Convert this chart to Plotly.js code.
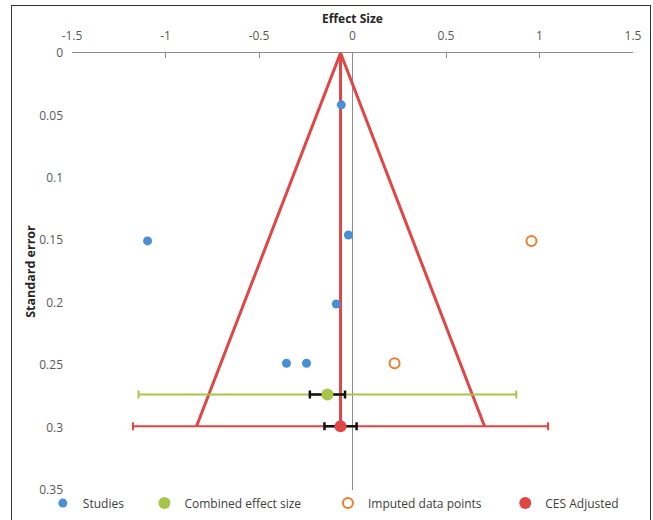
<!DOCTYPE html>
<html>
<head>
<meta charset="utf-8">
<script src="https://cdn.plot.ly/plotly-3.0.1.min.js"></script>
<style>
html,body{margin:0;padding:0;background:#fff;}
#wrap{position:relative;width:653px;height:520px;}
#chart{width:653px;height:520px;}
#frame{position:absolute;left:11px;top:5px;width:640px;height:530px;border:1.5px solid #333;pointer-events:none;box-sizing:border-box;}
</style>
</head>
<body>
<div id="wrap"><div id="chart"></div><div id="frame"></div></div>
<script>
// Data
const studiesX = [-0.06, -1.096, -0.022, -0.087, -0.353, -0.246];
const studiesY = [0.0415, 0.1505, 0.1458, 0.201, 0.2485, 0.2485];
const imputedX = [0.957, 0.225];
const imputedY = [0.1505, 0.2485];
const cesX = [-0.134];
const cesY = [0.2735];
const cesCiWide = [1.01];
const cesCiNarrow = [0.094];
const adjX = [-0.064];
const adjY = [0.299];
const adjCiWide = [1.11];
const adjCiNarrow = [0.086];
const funnelX = [-0.834, -0.064, 0.706];
const funnelY = [0.299, 0, 0.299];
const centerX = [-0.064, -0.064];
const centerY = [0, 0.299];
const xTicks = [-1.5, -1, -0.5, 0, 0.5, 1, 1.5];
const xTickText = ['-1.5', '-1', '-0.5', '0', '0.5', '1', '1.5'];
const yTicks = [0, 0.05, 0.1, 0.15, 0.2, 0.25, 0.3, 0.35];
const yTickText = ['0', '0.05', '0.1', '0.15', '0.2', '0.25', '0.3', '0.35'];
const seriesNames = ['Studies', 'Combined effect size', 'Imputed data points', 'CES Adjusted'];

const RED = '#E04646', BLUE = '#4A8FD4', GREEN = '#A8C44A', ORANGE = '#ED7D31';
const pad = n => '\u00a0'.repeat(n);

const traces = [
  {x: funnelX, y: funnelY, mode: 'lines', line: {color: RED, width: 3}, showlegend: false, hoverinfo: 'skip'},
  {x: centerX, y: centerY, mode: 'lines', line: {color: RED, width: 3}, showlegend: false, hoverinfo: 'skip'},
  // wide CI bars
  {x: cesX, y: cesY, mode: 'markers', marker: {size: 1, color: 'rgba(0,0,0,0)'}, showlegend: false,
   error_x: {type: 'data', array: cesCiWide, color: GREEN, thickness: 2, width: 4}, hoverinfo: 'skip'},
  {x: adjX, y: adjY, mode: 'markers', marker: {size: 1, color: 'rgba(0,0,0,0)'}, showlegend: false,
   error_x: {type: 'data', array: adjCiWide, color: RED, thickness: 2, width: 4}, hoverinfo: 'skip'},
  // narrow black bars
  {x: cesX, y: cesY, mode: 'markers', marker: {size: 1, color: 'rgba(0,0,0,0)'}, showlegend: false,
   error_x: {type: 'data', array: cesCiNarrow, color: '#111', thickness: 2.5, width: 4}, hoverinfo: 'skip'},
  {x: adjX, y: adjY, mode: 'markers', marker: {size: 1, color: 'rgba(0,0,0,0)'}, showlegend: false,
   error_x: {type: 'data', array: adjCiNarrow, color: '#111', thickness: 2.5, width: 4}, hoverinfo: 'skip'},
  // markers
  {x: studiesX, y: studiesY, mode: 'markers', name: seriesNames[0] + pad(5), marker: {color: BLUE, size: 9}},
  {x: cesX, y: cesY, mode: 'markers', name: seriesNames[1] + pad(7), marker: {color: GREEN, size: 12}},
  {x: imputedX, y: imputedY, mode: 'markers', name: seriesNames[2] + pad(6),
   marker: {color: 'rgba(0,0,0,0)', size: 10, line: {color: ORANGE, width: 2}}},
  {x: adjX, y: adjY, mode: 'markers', name: seriesNames[3], marker: {color: RED, size: 12}}
];

const font = '"Open Sans", Lato, sans-serif';
const layout = {
  width: 653, height: 520,
  margin: {l: 72, r: 20, t: 53, b: 30, autoexpand: false},
  paper_bgcolor: '#fff', plot_bgcolor: '#fff',
  font: {family: font, color: '#595959', size: 12},
  xaxis: {
    side: 'top', range: [-1.5, 1.5], tickvals: xTicks, ticktext: xTickText,
    showgrid: false, showline: true, linecolor: '#8c8c8c', linewidth: 1,
    ticks: 'inside', ticklen: 5, tickcolor: '#8c8c8c',
    ticklabelstandoff: 7,
    zeroline: true, zerolinecolor: '#8c8c8c', zerolinewidth: 1.5,
    title: {text: '<b>Effect Size</b>', font: {size: 12, color: '#262626', family: font}, standoff: 0},
    fixedrange: true
  },
  yaxis: {
    range: [0.35, 0], tickvals: yTicks, ticktext: yTickText,
    showgrid: false, showline: false, zeroline: false, ticks: '',
    ticklabelstandoff: 8,
    title: {text: '<b>Standard error</b>', font: {size: 12.5, color: '#262626', family: font}, standoff: 0},
    fixedrange: true
  },
  legend: {orientation: 'h', x: -0.052, xanchor: 'left', y: -0.03, yanchor: 'middle',
    font: {size: 12, color: '#404040', family: font}, itemwidth: 30,
    bgcolor: 'rgba(0,0,0,0)'},
  showlegend: true
};

Plotly.newPlot('chart', traces, layout, {displayModeBar: false, staticPlot: true});
</script>
</body>
</html>
